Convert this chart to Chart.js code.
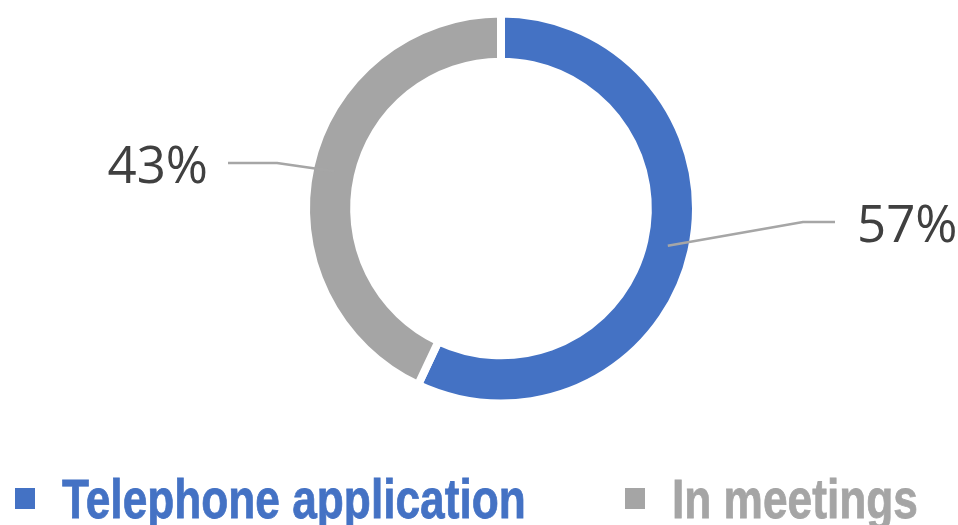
<!DOCTYPE html>
<html>
<head>
<meta charset="utf-8">
<script src="https://cdn.jsdelivr.net/npm/chart.js@4"></script>
<style>
  html, body { margin: 0; padding: 0; background: #fff; }
  #wrap { position: relative; width: 958px; height: 525px; overflow: hidden; }
  #chart { position: absolute; left: 0; top: 0; }
  .legend-item { position: absolute; top: 470px; display: flex; align-items: center; }
  .legend-box { width: 20px; height: 21px; margin-right: 27px; position: relative; top: -1px; }
  .legend-text { display: inline-block; transform: scaleX(0.79); transform-origin: left center;
    font-family: "Liberation Sans", Arial, sans-serif; -webkit-text-stroke: 0.8px currentColor;
    font-weight: bold; font-size: 56px; line-height: 58px; white-space: nowrap; }
</style>
</head>
<body>
<div id="wrap">
  <canvas id="chart" width="958" height="525"></canvas>
</div>
<script>
const labels = ["Telephone application", "In meetings"];
const shares = [57, 43];
const colors = ["#4472C4", "#A5A5A5"];

// where each percentage label sits, relative to the donut centre
const labelPlacement = [
  { elbowDx: 302, elbowDy: 13.5, tail: 32, gap: 22 },
  { elbowDx: -224, elbowDy: -45.5, tail: -49, gap: 20 },
];
const legendLeft = [15, 625];

// leader lines + percentage text beside each slice
const sliceLabels = {
  id: "sliceLabels",
  afterDatasetsDraw(chart) {
    const ctx = chart.ctx;
    const meta = chart.getDatasetMeta(0);
    meta.data.forEach((arc, i) => {
      const p = labelPlacement[i];
      const start = arc.tooltipPosition();
      const ex = arc.x + p.elbowDx, ey = arc.y + p.elbowDy;
      const tx = ex + p.tail;
      ctx.save();
      ctx.strokeStyle = "#A6A6A6";
      ctx.lineWidth = 2.5;
      ctx.lineJoin = "round";
      ctx.beginPath();
      ctx.moveTo(start.x, start.y);
      ctx.lineTo(ex, ey);
      ctx.lineTo(tx, ey);
      ctx.stroke();
      ctx.fillStyle = "#404040";
      ctx.font = '51px "Open Sans", sans-serif';
      ctx.textBaseline = "alphabetic";
      const right = p.tail > 0;
      ctx.textAlign = right ? "left" : "right";
      ctx.fillText(shares[i] + "%", right ? tx + p.gap : tx - p.gap, ey + 19.5);
      ctx.restore();
    });
  },
};

new Chart(document.getElementById("chart"), {
  type: "doughnut",
  data: {
    labels: labels,
    datasets: [{
      data: shares,
      backgroundColor: colors,
      borderColor: "#ffffff",
      borderWidth: 8,
    }],
  },
  options: {
    responsive: false,
    animation: false,
    radius: 195,
    cutout: 154,
    layout: { padding: { left: 44, right: 0, top: 0, bottom: 108 } },
    plugins: { legend: { display: false }, tooltip: { enabled: false } },
  },
  plugins: [sliceLabels],
});

// legend under the donut
const wrap = document.getElementById("wrap");
labels.forEach((name, i) => {
  const item = document.createElement("div");
  item.className = "legend-item";
  item.style.left = legendLeft[i] + "px";
  item.style.color = colors[i];
  item.innerHTML = `<span class="legend-box" style="background:${colors[i]}"></span><span class="legend-text">${name}</span>`;
  wrap.appendChild(item);
});
</script>
</body>
</html>
